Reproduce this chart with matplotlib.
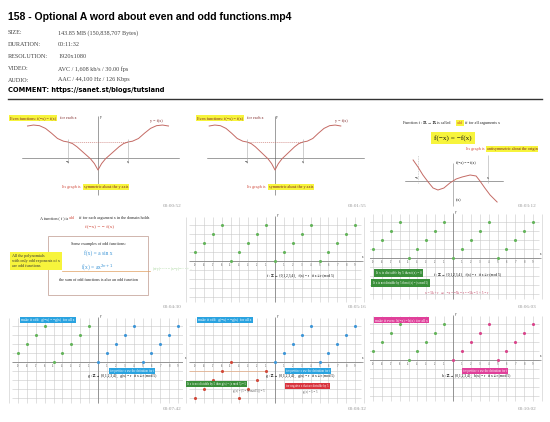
import matplotlib
matplotlib.use("Agg")
import matplotlib.pyplot as plt
import matplotlib.patches as patches

# ---- data ----
title = "158 - Optional A word about even and odd functions.mp4"
info_labels = ["SIZE:", "DURATION:", "RESOLUTION:", "VIDEO:", "AUDIO:"]
info_values = ["143.85 MB (150,838,707 Bytes)", "00:11:32", "1920x1080",
               "AVC / 1,608 kb/s / 30.00 fps", "AAC / 44,100 Hz / 126 Kbps"]
comment = "https://sanet.st/blogs/tutsland"
timestamps = ["00:00:52", "00:01:55", "00:03:12",
              "00:04:30", "00:05:16", "00:06:03",
              "00:07:42", "00:08:32", "00:10:02"]

even_x = [-2.35, -2.15, -1.95, -1.75, -1.55, -1.35, -1.15, -1.0, -0.85, -0.7, -0.55, -0.4, -0.25, -0.12, 0.0,
          0.12, 0.25, 0.4, 0.55, 0.7, 0.85, 1.0, 1.15, 1.35, 1.55, 1.75, 1.95, 2.15, 2.35]
even_y = [2.0, 2.06, 2.02, 1.85, 1.55, 1.22, 1.05, 1.0, 0.9, 0.7, 0.45, 0.2, -0.05, -0.35, -0.75,
          -0.35, -0.05, 0.2, 0.45, 0.7, 0.9, 1.0, 1.05, 1.22, 1.55, 1.85, 2.02, 2.06, 2.0]

odd_x = [-1.14, -1.0, -0.86, -0.71, -0.57, -0.43, -0.26, -0.09, 0.09, 0.26, 0.49, 0.66, 0.77, 0.91, 1.06, 1.26]
odd_y = [2.1, 1.4, 0.6, -0.1, -0.7, -0.9, -0.7, -0.2, 0.2, 0.4, 0.6, 0.5, 0.0, -0.7, -1.4, -2.1]

int_x = [-9, -8, -7, -6, -5, -4, -3, -2, -1, 0, 1, 2, 3, 4, 5, 6, 7, 8, 9]
mod5 = [1, 2, 3, 4, 0, 1, 2, 3, 4, 0, 1, 2, 3, 4, 0, 1, 2, 3, 4]
neg_x = [-9, -8, -7, -6, -5, -4, -3, -2, -1]
neg_mod5 = [-4, -3, -2, -1, 0, -4, -3, -2, -1]

# ---- layout ----
FW, FH = 550, 422
TW, TH = 183, 102
COLS = [0, 185, 370]
ROWS = [105, 205, 305]

YEL = "#f7f43c"
CURVE = "#c46a64"
GRID = "#c8c8c8"
GREEN = "#63b35a"
BLUE = "#3d95d6"
RED = "#d0483a"
PINK = "#d8448a"
SERIF = ["Liberation Serif", "DejaVu Serif", "DejaVu Sans"]

fig = plt.figure(figsize=(FW / 100, FH / 100), dpi=100)
fig.patch.set_facecolor("white")


def ftext(px, py, s, **kw):
    fig.text(px / FW, 1 - py / FH, s, **kw)


ftext(8, 17, title, fontsize=7.6, fontweight="bold", va="center",
      family=["Liberation Sans", "DejaVu Sans"])
rows_y = [33, 45, 57, 69, 80]
for lab, val, yy in zip(info_labels, info_values, rows_y):
    ftext(8, yy, lab, fontsize=4.4, color="#444444", va="center", family=SERIF)
    ftext(58, yy, val, fontsize=4.4, color="#444444", va="center", family=SERIF)
ftext(8, 90, "COMMENT: " + comment, fontsize=4.8, fontweight="bold", va="center", family="DejaVu Sans")
fig.add_artist(plt.Line2D([8 / FW, 542 / FW], [1 - 99 / FH, 1 - 99 / FH], color="#333333", lw=1.0))


def thumb(col, row):
    ax = fig.add_axes([COLS[col] / FW, 1 - (ROWS[row] + TH) / FH, TW / FW, TH / FH])
    ax.set_axis_off()
    ax.patch.set_alpha(0)
    return ax


def units(ax, ox, oy, ux, uy):
    ax.set_xlim(-ox / ux, (TW - ox) / ux)
    ax.set_ylim((oy - TH) / uy, oy / uy)


def lt(ax, px, py, s, **kw):
    kw.setdefault("fontsize", 3)
    kw.setdefault("family", SERIF)
    kw.setdefault("va", "center")
    ax.text(px / TW, 1 - py / TH, s, transform=ax.transAxes, **kw)


def hl(color, pad=0.15):
    return dict(boxstyle="square,pad=%.2f" % pad, fc=color, ec="none")


# ---- thumbs 1 and 2: even function ----
for col, (ox, ux, tx0) in enumerate([(98, 30, 10), (90, 28, 12)]):
    ax = thumb(col, 0)
    units(ax, ox, 53, ux, 16)
    ax.axhline(0, xmin=0.12, xmax=0.98, color="#555555", lw=0.4)
    ax.vlines(0, -2.3, 2.6, color="#555555", lw=0.4)
    ax.plot(even_x, even_y, color=CURVE, lw=0.7)
    ax.hlines(1, -1, 1, color=CURVE, lw=0.4, linestyles=(0, (2, 1.5)))
    ax.vlines([-1, 1], -0.3, 1.2, color="#aaaaaa", lw=0.4)
    ax.text(-1, -0.15, "−x", fontsize=2.5, ha="center", va="top", family=SERIF)
    ax.text(1, -0.15, "x", fontsize=2.5, ha="center", va="top", family=SERIF)
    ax.text(0.05, 2.55, "y", fontsize=2.5, va="center", family=SERIF)
    lt(ax, tx0, 13, "Even functions: f(−x) = f(x)", color="#7a2020", bbox=hl(YEL))
    lt(ax, tx0 + 50, 13, "for each x", color="#7a2020")
    lt(ax, 150, 16, "y = f(x)", color="#7a2020")
    lt(ax, 62, 82, "Its graph is", color=RED)
    lt(ax, 84, 82, "symmetric about the y axis", color="#7a2020", bbox=hl(YEL))

# ---- thumb 3: odd definition ----
ax = thumb(2, 0)
units(ax, 83, 76, 35, 10)
lt(ax, 33, 18, "Function f : ℝ → ℝ is called", color="#222222")
lt(ax, 87, 18, "odd", color=RED, bbox=hl(YEL))
lt(ax, 95, 18, "if for all arguments x", color="#222222")
lt(ax, 83, 33, "f(−x) = −f(x)", fontsize=5.2, ha="center", color="#111111", bbox=hl(YEL, 0.4))
lt(ax, 96, 44, "Its graph is", color=RED)
lt(ax, 117, 44, "antisymmetric about the origin", color="#7a2020", bbox=hl(YEL))
ax.axhline(0, xmin=35 / TW, xmax=133 / TW, color="#555555", lw=0.4)
ax.vlines(0, -2.5, 1.8, color="#aaaaaa", lw=0.6)
ax.vlines([-1, 1], -0.2, 2.6, color="#aaaaaa", lw=0.4, linestyles=[(0, (1.5, 1.5)), "solid"])
ax.plot(odd_x, odd_y, color=CURVE, lw=0.7)
lt(ax, 86, 58, "f(−x) = − f(x)", fontsize=2.6)
lt(ax, 86, 95, "f(x)", fontsize=2.6)
lt(ax, 47, 73, "−x", fontsize=2.5, ha="center")
lt(ax, 118, 73, "x", fontsize=2.5, ha="center")

# ---- thumb 4: odd examples ----
ax = thumb(0, 1)
ax.set_xlim(0, TW)
ax.set_ylim(TH, 0)
lt(ax, 40, 13, "A function ( f ) is", color="#222222")
lt(ax, 69, 13, "odd", color=RED)
lt(ax, 79, 13, "if for each argument x in the domain holds", color="#222222")
lt(ax, 100, 22, "f(−x) = − f(x)", fontsize=3.8, ha="center", color=RED)
ax.add_patch(patches.Rectangle((48, 31), 100, 59, fill=False, ec="#c9a9a0", lw=0.6))
lt(ax, 98, 39, "Some examples of odd functions:", ha="center", color="#222222")
lt(ax, 98, 48, "f(x) = a sin x", fontsize=4, ha="center", color=BLUE)
lt(ax, 98, 62, "f(x) = ax$^{2n+1}$", fontsize=4, ha="center", color=BLUE)
ax.plot([62, 150], [66, 66], color="#e0a060", lw=0.5)
lt(ax, 98, 75, "the sum of odd functions is also an odd function", ha="center", color="#222222")
lt(ax, 152, 65, "(x+y)$^{2n+1}$ = (x−y)$^{2n+1}$ + ...", fontsize=2.4, color="#9ccf8f")
lt(ax, 12, 56, "All the polynomials\nwith only odd exponents of x\nare odd functions",
   color="#333333", linespacing=1.4, bbox=hl(YEL, 0.5))


# ---- grid thumbs ----
def grid(ax, ox, oy):
    units(ax, ox, oy, 8.9, 8.9)
    ax.vlines(range(-10, 11), -4.6, 4.9, color=GRID, lw=0.4)
    ax.hlines(range(-4, 5), -9.7, 9.7, color=GRID, lw=0.4)
    ax.hlines(0, -9.7, 9.9, color="#777777", lw=0.5)
    ax.vlines(0, -4.6, 5.1, color="#777777", lw=0.5)
    for v in int_x:
        if v != 0:
            ax.text(v, -0.25, str(v), fontsize=1.8, ha="center", va="top", color="#666666")
    ax.text(9.8, 0.3, "x", fontsize=2.2, family=SERIF)
    ax.text(0.2, 5.0, "y", fontsize=2.2, family=SERIF)


FTXT = "f : ℤ → {0,1,2,3,4},   f(x) = r   if x ≡ r (mod 5)"
GTXT = "g : ℤ → {0,1,2,3,4},   g(x) = r   if x ≡ r (mod 5)"

# thumb 5
ax = thumb(1, 1)
grid(ax, 90, 56)
ax.scatter(int_x, mod5, s=1.5, color=GREEN, zorder=3)
lt(ax, 82, 71, FTXT, fontsize=2.6)

# thumb 6
ax = thumb(2, 1)
grid(ax, 83, 53)
ax.scatter(int_x, mod5, s=1.5, color=GREEN, zorder=3)
lt(ax, 64, 70, FTXT, fontsize=2.6)
lt(ax, 6, 68, "If x is divisible by 5 then f(x) = 0", fontsize=2.4, color="white", bbox=hl("#3a8f3a", 0.5))
lt(ax, 3, 78, "If x is not divisible by 5 then f(x) = (x mod 5)", fontsize=2.2, color="white",
   bbox=hl("#3a8f3a", 0.5))
lt(ax, 55, 88, "x = 5k + r   ⇒   −x = −5k − r = −5k − 5 + 5 − r", fontsize=2.4, color="#c04060")

# thumb 7
ax = thumb(0, 2)
grid(ax, 98, 57)
ax.scatter(neg_x, mod5[:9], s=1.5, color=GREEN, zorder=3)
ax.scatter(int_x[9:], mod5[9:], s=1.5, color=BLUE, zorder=3)
lt(ax, 21, 15, "make it odd:  g(−x) = −g(x)  for all x", fontsize=2.6, color="white", bbox=hl("#2aa3e0", 0.4))
lt(ax, 110, 66, "for positive x use the definition for f", fontsize=2.2, color="white", bbox=hl("#2aa3e0", 0.4))
lt(ax, 88, 71, GTXT, fontsize=2.6)

# thumb 8
ax = thumb(1, 2)
grid(ax, 90, 57)
ax.scatter(int_x[9:], mod5[9:], s=1.5, color=BLUE, zorder=3)
ax.scatter(neg_x, neg_mod5, s=1.5, color=RED, zorder=3)
ax.hlines(-1, -9.7, -0.9, color="#e8a070", lw=0.4)
lt(ax, 13, 15, "make it odd:  g(−x) = −g(x)  for all x", fontsize=2.6, color="white", bbox=hl("#2aa3e0", 0.4))
lt(ax, 101, 66, "for positive x use the definition for f", fontsize=2.2, color="white", bbox=hl("#2aa3e0", 0.4))
lt(ax, 81, 71, GTXT, fontsize=2.6)
lt(ax, 2, 79, "If x is not divisible by 5 then g(x) = (x mod 5) − 5", fontsize=2.1, color="white",
   bbox=hl("#3a8f3a", 0.4))
lt(ax, 101, 81, "for negative x that are divisible by 5", fontsize=2.1, color="white", bbox=hl("#d9343e", 0.4))
lt(ax, 48, 86, "g(x) = (5 − (x mod 5)) − 5", fontsize=2.2, color="#555555")
lt(ax, 118, 87, "g(x) = 5 − 5", fontsize=2.2, color="#555555")

# thumb 9
ax = thumb(2, 2)
grid(ax, 83, 55)
ax.scatter(neg_x, mod5[:9], s=1.5, color=GREEN, zorder=3)
ax.scatter(int_x[9:], mod5[9:], s=1.5, color=PINK, zorder=3)
lt(ax, 5, 15, "make it even:  h(−x) = h(x)  for all x", fontsize=2.6, color="white", bbox=hl("#e0409a", 0.4))
lt(ax, 93, 66, "for positive x use the definition for f", fontsize=2.2, color="white", bbox=hl("#e0409a", 0.4))
lt(ax, 72, 71, "h : ℤ → {0,1,2,3,4},   h(x) = r   if x ≡ r (mod 5)", fontsize=2.6)

# ---- timestamps ----
for i, ts in enumerate(timestamps):
    r, c = divmod(i, 3)
    ftext(COLS[c] + 172 if c < 2 else 527, [206, 307, 409][r], ts, fontsize=3.8,
          color="#9a9a9a", ha="center", va="center", family=SERIF)

fig.savefig("out.png", dpi=100, facecolor="white")
